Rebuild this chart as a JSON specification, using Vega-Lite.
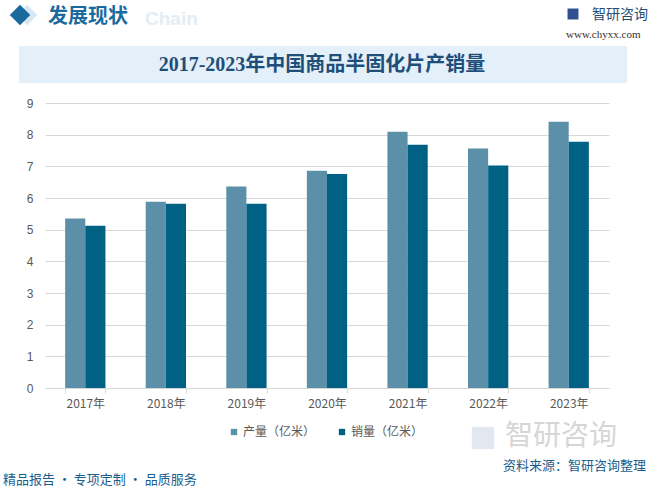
{
  "$schema": "https://vega.github.io/schema/vega-lite/v6.json",
  "autosize": {"type": "none"},
  "width": 564,
  "height": 285,
  "padding": {"left": 45, "top": 103, "right": 41, "bottom": 101},
  "background": "#FFFFFF",
  "config": {
    "view": {"stroke": null},
    "font": "Noto Sans CJK SC"
  },
  "data": {
    "values": [
      {"year": "2017年", "series": "产量（亿米）", "value": 5.35},
      {"year": "2017年", "series": "销量（亿米）", "value": 5.12},
      {"year": "2018年", "series": "产量（亿米）", "value": 5.88},
      {"year": "2018年", "series": "销量（亿米）", "value": 5.82},
      {"year": "2019年", "series": "产量（亿米）", "value": 6.36},
      {"year": "2019年", "series": "销量（亿米）", "value": 5.82},
      {"year": "2020年", "series": "产量（亿米）", "value": 6.86},
      {"year": "2020年", "series": "销量（亿米）", "value": 6.76},
      {"year": "2021年", "series": "产量（亿米）", "value": 8.09},
      {"year": "2021年", "series": "销量（亿米）", "value": 7.68},
      {"year": "2022年", "series": "产量（亿米）", "value": 7.56},
      {"year": "2022年", "series": "销量（亿米）", "value": 7.03},
      {"year": "2023年", "series": "产量（亿米）", "value": 8.41},
      {"year": "2023年", "series": "销量（亿米）", "value": 7.78}
    ]
  },
  "layer": [
    {
      "data": {"values": [{}]},
      "mark": {"type": "rect", "x": -26, "x2": 582, "y": -57, "y2": -20, "fill": "#E3F0F9"},
      "encoding": {}
    },
    {
      "data": {"values": [{}]},
      "mark": {"type": "text", "x": 277, "y": -38, "align": "center", "baseline": "middle", "text": "2017-2023年中国商品半固化片产销量", "font": "Liberation Serif, Noto Sans CJK SC", "fontSize": 20, "fontWeight": "bold", "fill": "#1F4E79"},
      "encoding": {}
    },
    {
      "data": {"values": [{}]},
      "mark": {"type": "point", "shape": "diamond", "x": -18, "y": -88, "size": 420, "filled": true, "fill": "#D6E6F2", "opacity": 1, "strokeWidth": 0},
      "encoding": {}
    },
    {
      "data": {"values": [{}]},
      "mark": {"type": "point", "shape": "diamond", "x": -25, "y": -88, "size": 420, "filled": true, "fill": "#1B6A9E", "opacity": 1, "strokeWidth": 0},
      "encoding": {}
    },
    {
      "data": {"values": [{}]},
      "mark": {"type": "text", "x": 100, "y": -84, "align": "left", "baseline": "middle", "text": "Chain", "font": "Liberation Sans", "fontSize": 19, "fontWeight": "bold", "fill": "#E3EDF5"},
      "encoding": {}
    },
    {
      "data": {"values": [{}]},
      "mark": {"type": "text", "x": 3, "y": -86, "align": "left", "baseline": "middle", "text": "发展现状", "font": "Noto Sans CJK SC", "fontSize": 20, "fontWeight": "bold", "fill": "#1B6A9E"},
      "encoding": {}
    },
    {
      "data": {"values": [{}]},
      "mark": {"type": "rule", "x": -45, "x2": 513, "y": -68, "y2": -68, "stroke": "#1A5E8E", "strokeWidth": 1.5},
      "encoding": {}
    },
    {
      "data": {"values": [{}]},
      "mark": {"type": "point", "shape": "square", "x": 528, "y": -89, "size": 120, "filled": true, "fill": "#2F4F8F", "opacity": 1, "strokeWidth": 0},
      "encoding": {}
    },
    {
      "data": {"values": [{}]},
      "mark": {"type": "text", "x": 547, "y": -88, "align": "left", "baseline": "middle", "text": "智研咨询", "font": "Noto Sans CJK SC", "fontSize": 14, "fill": "#1F4E79"},
      "encoding": {}
    },
    {
      "data": {"values": [{}]},
      "mark": {"type": "text", "x": 521, "y": -68, "align": "left", "baseline": "middle", "text": "www.chyxx.com", "font": "Liberation Serif", "fontSize": 11, "fill": "#333333"},
      "encoding": {}
    },
    {
      "data": {"values": [{}]},
      "mark": {"type": "point", "shape": "square", "x": 438, "y": 335, "size": 500, "filled": true, "fill": "#E1E8F0", "opacity": 1, "strokeWidth": 0},
      "encoding": {}
    },
    {
      "data": {"values": [{}]},
      "mark": {"type": "text", "x": 460, "y": 334, "align": "left", "baseline": "middle", "text": "智研咨询", "font": "Noto Sans CJK SC", "fontSize": 28, "fill": "#D6D6D6"},
      "encoding": {}
    },
    {
      "data": {"values": [{}]},
      "mark": {"type": "rule", "x": -45, "x2": 440, "y": 362, "y2": 362, "stroke": "#1A5E8E", "strokeWidth": 1.5},
      "encoding": {}
    },
    {
      "data": {"values": [{}]},
      "mark": {"type": "text", "x": 601, "y": 363, "align": "right", "baseline": "middle", "text": "资料来源：智研咨询整理", "font": "Noto Sans CJK SC", "fontSize": 13, "fill": "#1A5E8E"},
      "encoding": {}
    },
    {
      "data": {"values": [{}]},
      "mark": {"type": "text", "x": -42, "y": 377, "align": "left", "baseline": "middle", "text": "精品报告 · 专项定制 · 品质服务", "font": "Noto Sans CJK SC", "fontSize": 13, "fill": "#1A5E8E"},
      "encoding": {}
    },
    {
      "mark": {"type": "bar"},
      "encoding": {
        "x": {
          "field": "year",
          "type": "nominal",
          "sort": null,
          "title": null,
          "scale": {"paddingInner": 0.5, "paddingOuter": 0.25},
          "axis": {
            "labelAngle": 0,
            "labelFont": "Noto Sans CJK SC",
            "labelFontSize": 12,
            "labelColor": "#595959",
            "labelPadding": 5,
            "domainColor": "#D9D9D9",
            "tickColor": "#D9D9D9",
            "tickSize": 5,
            "tickBand": "extent",
            "grid": false
          }
        },
        "xOffset": {"field": "series", "type": "nominal", "sort": ["产量（亿米）", "销量（亿米）"]},
        "y": {
          "field": "value",
          "type": "quantitative",
          "title": null,
          "scale": {"domain": [0, 9], "nice": false},
          "axis": {
            "values": [0, 1, 2, 3, 4, 5, 6, 7, 8, 9],
            "labelFont": "Liberation Sans",
            "labelFontSize": 12,
            "labelColor": "#595959",
            "labelPadding": 12,
            "domain": false,
            "ticks": false,
            "gridColor": "#D9D9D9",
            "gridWidth": 1
          }
        },
        "color": {
          "field": "series",
          "type": "nominal",
          "sort": ["产量（亿米）", "销量（亿米）"],
          "scale": {"range": ["#5C8FA8", "#006185"]},
          "legend": {
            "title": null,
            "orient": "none",
            "direction": "horizontal",
            "legendX": 183,
            "legendY": 323,
            "symbolType": "square",
            "symbolSize": 40,
            "symbolStrokeWidth": 0,
            "labelFont": "Noto Sans CJK SC",
            "labelFontSize": 12,
            "labelColor": "#595959",
            "labelOffset": 3,
            "columnPadding": 20,
            "padding": 0
          }
        }
      }
    }
  ]
}
